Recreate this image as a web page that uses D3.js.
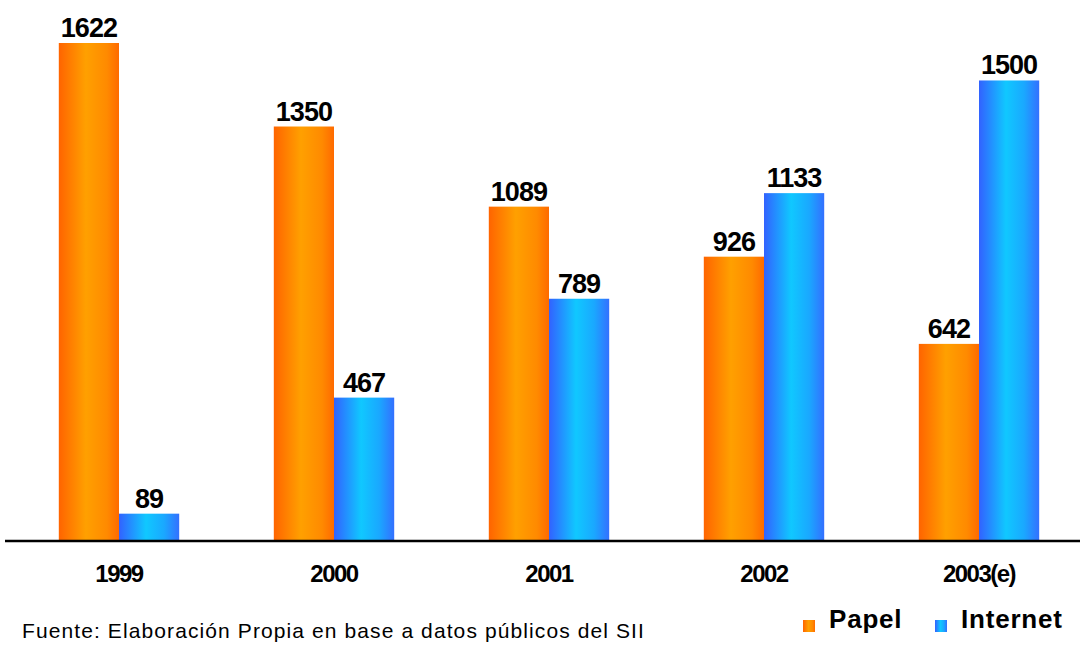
<!DOCTYPE html>
<html>
<head>
<meta charset="utf-8">
<script src="https://cdn.jsdelivr.net/npm/d3@7"></script>
<style>
  html, body { margin: 0; padding: 0; background: #ffffff; }
  svg { display: block; }
</style>
</head>
<body>
<svg id="chart" width="1080" height="645"></svg>
<script>
// Declaraciones por medio de presentación (miles)
const years = ["1999", "2000", "2001", "2002", "2003(e)"];
const papel = [1622, 1350, 1089, 926, 642];
const internet = [89, 467, 789, 1133, 1500];
const seriesNames = ["Papel", "Internet"];
const source = "Fuente: Elaboración Propia en base a datos públicos del SII";

const width = 1080, height = 645;
const baseY = 541;
const svg = d3.select("#chart");

const x = d3.scaleBand().domain(years).range([11.5, 1086.5]).paddingInner(0.44).paddingOuter(0.22);
const inner = d3.scaleBand().domain(seriesNames).range([0, x.bandwidth()]);
const y = d3.scaleLinear().domain([0, 1622]).range([baseY, 43]);

// Horizontal shading of the bars
const defs = svg.append("defs");
function hGrad(id, stops) {
  const g = defs.append("linearGradient").attr("id", id)
    .attr("x1", "0%").attr("x2", "100%").attr("y1", "0%").attr("y2", "0%");
  stops.forEach(([o, c]) => g.append("stop").attr("offset", o).attr("stop-color", c));
}
hGrad("gPapel", [["0%", "#ff6400"], ["45%", "#ffa000"], ["80%", "#ff8a00"], ["100%", "#ff6a00"]]);
hGrad("gInternet", [["0%", "#3262ff"], ["45%", "#10c8ff"], ["75%", "#1aa8ff"], ["100%", "#3370ff"]]);

const fills = { Papel: "url(#gPapel)", Internet: "url(#gInternet)" };
const rows = years.map((yr, i) => ({ year: yr, values: [
  { key: "Papel", value: papel[i] },
  { key: "Internet", value: internet[i] }
]}));

const groups = svg.append("g").selectAll("g").data(rows).join("g")
  .attr("transform", d => `translate(${x(d.year)},0)`);

groups.selectAll("rect").data(d => d.values).join("rect")
  .attr("x", d => inner(d.key))
  .attr("width", inner.bandwidth())
  .attr("y", d => y(d.value))
  .attr("height", d => baseY - y(d.value))
  .attr("fill", d => fills[d.key]);

groups.selectAll("text.val").data(d => d.values).join("text")
  .attr("class", "val")
  .attr("x", d => inner(d.key) + inner.bandwidth() / 2)
  .attr("y", d => y(d.value) - 6)
  .attr("text-anchor", "middle")
  .attr("font-family", "Liberation Sans, Arial, sans-serif")
  .attr("font-weight", "bold")
  .attr("font-size", 27)
  .attr("letter-spacing", -1)
  .attr("fill", "#000")
  .text(d => d.value);

// Category axis
const axis = svg.append("g").attr("transform", `translate(0,${baseY})`)
  .call(d3.axisBottom(x).tickSize(0).tickPadding(24));
axis.select(".domain").remove();
axis.append("line").attr("x1", 5).attr("x2", 1080).attr("y1", 0).attr("y2", 0)
  .attr("stroke", "#000").attr("stroke-width", 2.5);
axis.selectAll(".tick text")
  .attr("font-family", "Liberation Sans, Arial, sans-serif")
  .attr("font-weight", "bold")
  .attr("font-size", 24)
  .attr("letter-spacing", -1.5)
  .attr("fill", "#000");

// Source note
svg.append("text")
  .attr("x", 22).attr("y", 638)
  .attr("font-family", "Liberation Sans, Arial, sans-serif")
  .attr("font-size", 21)
  .attr("letter-spacing", 1.1)
  .attr("fill", "#000")
  .text(source);

// Legend
const legendX = [803, 935];
const legend = svg.append("g").selectAll("g").data(seriesNames).join("g")
  .attr("transform", (d, i) => `translate(${legendX[i]},0)`);
legend.append("rect")
  .attr("x", 0).attr("y", 620).attr("width", 12).attr("height", 12)
  .attr("fill", d => fills[d]);
legend.append("text")
  .attr("x", 26).attr("y", 628)
  .attr("font-family", "Liberation Sans, Arial, sans-serif")
  .attr("font-weight", "bold")
  .attr("font-size", 26)
  .attr("letter-spacing", 0.8)
  .attr("fill", "#000")
  .text(d => d);
</script>
</body>
</html>
